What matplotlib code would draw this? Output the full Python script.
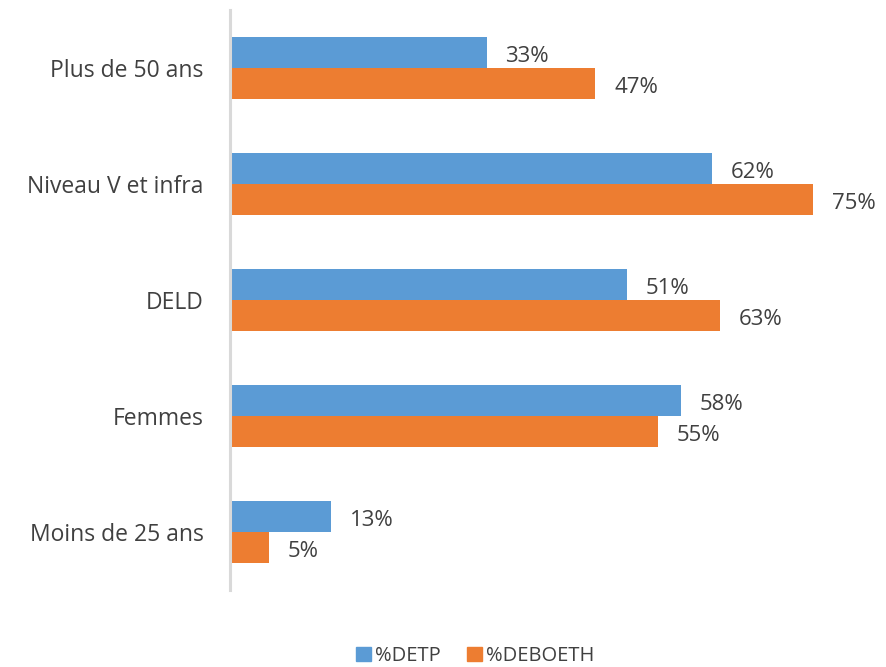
import numpy as np
import matplotlib.pyplot as plt
from matplotlib.patches import Patch

categories = ['Plus de 50 ans', 'Niveau V et infra', 'DELD', 'Femmes', 'Moins de 25 ans']
detp = [33, 62, 51, 58, 13]
deboeth = [47, 75, 63, 55, 5]

blue = '#5B9BD5'
orange = '#ED7D31'
txt = '#404040'

plt.rcParams['font.family'] = ['Open Sans', 'DejaVu Sans']

fig = plt.figure(figsize=(8.86, 6.67), dpi=100)
ax = fig.add_axes([230/886, 1 - 590/667, 622/886, 580/667])

y = np.arange(len(categories))
h = 0.267
ax.barh(y - h/2, detp, height=h, color=blue)
ax.barh(y + h/2, deboeth, height=h, color=orange)

for i in range(len(categories)):
    ax.annotate(f'{detp[i]}%', (detp[i], y[i] - h/2), xytext=(13.5, -3), textcoords='offset points',
                va='center', ha='left', fontsize=16, color=txt)
    ax.annotate(f'{deboeth[i]}%', (deboeth[i], y[i] + h/2), xytext=(13.5, -3), textcoords='offset points',
                va='center', ha='left', fontsize=16, color=txt)

ax.set_ylim(len(categories) - 0.5, -0.5)
ax.set_xlim(0, 80)
ax.set_yticks(y)
ax.set_yticklabels(categories, fontsize=16.5, color=txt)
ax.tick_params(axis='y', length=0, pad=19)
ax.set_xticks([])
for s in ['top', 'right', 'bottom']:
    ax.spines[s].set_visible(False)
ax.spines['left'].set_color('#D9D9D9')
ax.spines['left'].set_linewidth(2.2)

handles = [Patch(color=blue, label='%DETP'), Patch(color=orange, label='%DEBOETH')]
fig.legend(handles=handles, loc='center', bbox_to_anchor=(0.536, 1 - 656/667), ncol=2,
           frameon=False, fontsize=14.5, labelcolor=txt, handlelength=0.75, handleheight=0.75,
           handletextpad=0.2, columnspacing=1.3)

fig.savefig('out.png', dpi=100)
